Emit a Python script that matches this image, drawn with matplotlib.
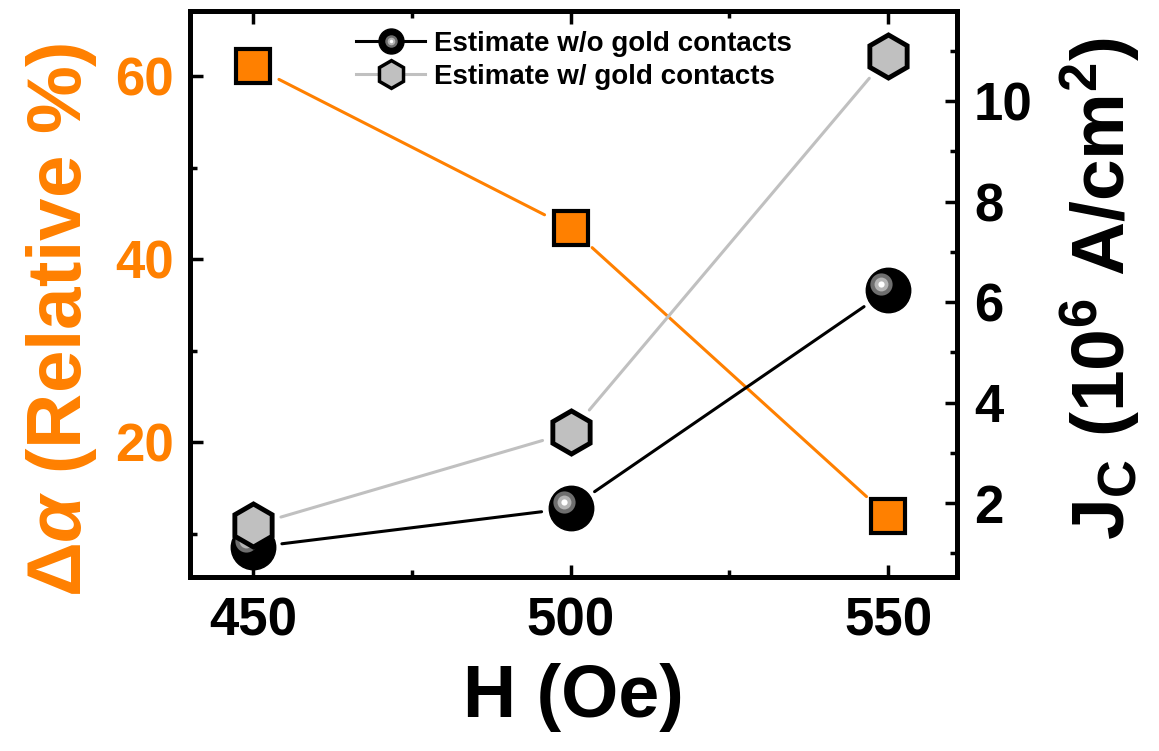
import matplotlib
matplotlib.use("Agg")
import matplotlib.pyplot as plt
from matplotlib.lines import Line2D
from matplotlib.legend_handler import HandlerTuple
from matplotlib.ticker import MultipleLocator
from matplotlib.transforms import ScaledTranslation

# data
field = [450, 500, 550]
delta_alpha = [61.1, 43.4, 11.9]
jc_no_gold = [1.12, 1.9, 6.24]
jc_gold = [1.56, 3.41, 10.9]

x_ticks = [450, 500, 550]
left_ticks = [20, 40, 60]
right_ticks = [2, 4, 6, 8, 10]

orange = "#FF8000"
grey = "#C0C0C0"

plt.rcParams["font.family"] = ["Liberation Sans", "DejaVu Sans"]
plt.rcParams["font.weight"] = "bold"
plt.rcParams["mathtext.fontset"] = "custom"
plt.rcParams["mathtext.rm"] = "Liberation Sans"
plt.rcParams["mathtext.it"] = "Liberation Sans:italic:bold"
plt.rcParams["mathtext.bf"] = "Liberation Sans:bold"

fig = plt.figure(figsize=(11.59, 7.51), dpi=100)
ax = fig.add_axes([0.164, 0.2317, 0.662, 0.7533])
ax2 = ax.twinx()

ax.set_xlim(440.1, 560.9)
ax.set_ylim(5.25, 67.1)
ax2.set_ylim(0.53, 11.79)


def gap_line(a, xs, ys, color):
    # Origin style: connecting segments stop short of the symbols
    for x0, y0, x1, y1 in zip(xs[:-1], ys[:-1], xs[1:], ys[1:]):
        a.annotate("", xy=(x1, y1), xytext=(x0, y0),
                   arrowprops=dict(arrowstyle="-", color=color, lw=2.2,
                                   shrinkA=21, shrinkB=21), zorder=2)


# left axis: orange squares
gap_line(ax, field, delta_alpha, orange)
ax.plot(field, delta_alpha, ls="none", marker="s", ms=24,
        mfc=orange, mec="black", mew=3, zorder=3)

# right axis: black spheres then grey hexagons
gap_line(ax2, field, jc_no_gold, "black")
ax2.plot(field, jc_no_gold, ls="none", marker="o", ms=32,
         mfc="black", mec="black", mew=1, zorder=3)
off = ax2.transData + ScaledTranslation(-5 / 72, 4.3 / 72, fig.dpi_scale_trans)
for size, col in [(16, "#6E6E6E"), (10, "#B4B4B4"), (4.5, "white")]:
    ax2.plot(field, jc_no_gold, ls="none", marker="o", ms=size, mfc=col,
             mec="none", transform=off, zorder=4)
gap_line(ax2, field, jc_gold, grey)
ax2.plot(field, jc_gold, ls="none", marker="h", ms=31,
         mfc=grey, mec="black", mew=3.5, zorder=5)

ax.set_xticks(x_ticks)
ax.set_yticks(left_ticks)
ax2.set_yticks(right_ticks)
ax.xaxis.set_minor_locator(MultipleLocator(25))
ax.yaxis.set_minor_locator(MultipleLocator(10))
ax2.yaxis.set_minor_locator(MultipleLocator(1))

for a in (ax, ax2):
    for sp in a.spines.values():
        sp.set_linewidth(3.5)
ax.tick_params(axis="x", which="both", direction="in", top=True, width=2.5)
ax.tick_params(axis="x", which="major", length=9, labelsize=38, pad=14)
ax.tick_params(axis="x", which="minor", length=5)
ax.tick_params(axis="y", which="both", direction="in", width=2.5,
               labelcolor=orange)
ax.tick_params(axis="y", which="major", length=9, labelsize=38, pad=12)
ax.tick_params(axis="y", which="minor", length=5)
ax2.tick_params(axis="y", which="both", direction="in", width=2.5)
ax2.tick_params(axis="y", which="major", length=9, labelsize=38, pad=12)
ax2.tick_params(axis="y", which="minor", length=5)

ax.set_xlabel("H (Oe)", fontsize=53, fontweight="bold", labelpad=12)
ax.set_ylabel(r"$\Delta\alpha$ (Relative %)", fontsize=55, fontweight="bold",
              color=orange, labelpad=11)
ax.yaxis.label.set_y(0.455)
ax2.set_ylabel(r"J$_\mathbf{C}$ (10$^\mathbf{6}$ A/cm$^\mathbf{2}$)",
               fontsize=54, fontweight="bold", labelpad=18)
ax2.yaxis.label.set_y(0.51)

sphere = Line2D([], [], color="black", lw=2.2, marker="o", ms=18,
                mfc="black", mec="black")
shine = [Line2D([], [], ls="none", marker="o", ms=s, mfc=c, mec="none")
         for s, c in [(9, "#6E6E6E"), (5.5, "#B4B4B4"), (2.5, "white")]]
hexa = Line2D([], [], color=grey, lw=2.2, marker="h", ms=20, mfc=grey,
              mec="black", mew=2.5)
labels = ["Estimate w/o gold contacts", "Estimate w/ gold contacts"]
ax2.legend([tuple([sphere] + shine), hexa], labels, loc="upper center",
           frameon=False, prop={"weight": "bold", "size": 20},
           handler_map={tuple: HandlerTuple(ndivide=1)},
           handlelength=2.5, handletextpad=0.3, labelspacing=0.25,
           borderaxespad=0.3)

fig.savefig("out.png", dpi=100)
